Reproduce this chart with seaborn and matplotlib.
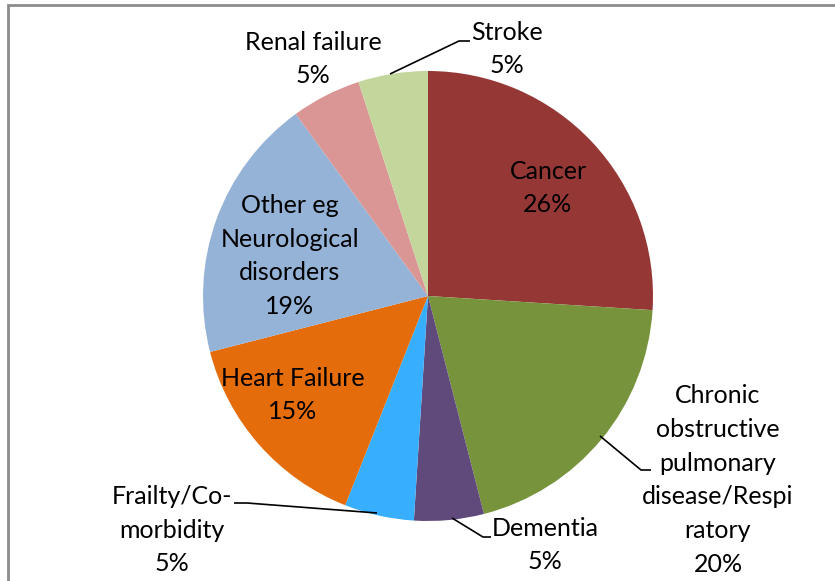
import matplotlib
matplotlib.use("Agg")
import matplotlib.pyplot as plt
import seaborn as sns
from matplotlib.patches import Rectangle

categories = ["Cancer", "Chronic obstructive pulmonary disease/Respiratory", "Dementia",
              "Frailty/Co-morbidity", "Heart Failure", "Other eg Neurological disorders",
              "Renal failure", "Stroke"]
values = [26, 20, 5, 5, 15, 19, 5, 5]
label_texts = ["Cancer", "Chronic\nobstructive\npulmonary\ndisease/Respi\nratory", "Dementia",
               "Frailty/Co-\nmorbidity", "Heart Failure", "Other eg\nNeurological\ndisorders",
               "Renal failure", "Stroke"]
colors = ["#953735", "#77933C", "#604A7B", "#38AEFF", "#E46C0A", "#95B3D7", "#D99694", "#C3D69B"]

sns.set_theme(style="white")
plt.rcParams['font.family'] = ['Lato', 'DejaVu Sans']

W, H = 835, 581
CX, CY, R = 428, 296, 225

fig = plt.figure(figsize=(W / 100, H / 100), dpi=100)
ax = fig.add_axes([0, 0, 1, 1])

ax.pie(values, colors=colors, startangle=90, counterclock=False, radius=1.0,
       wedgeprops=dict(linewidth=0))
ax.set_xlim(-CX / R, (W - CX) / R)
ax.set_ylim(-(H - CY) / R, CY / R)
ax.set_aspect("equal")
ax.axis("off")

def P(px, py):
    return ((px - CX) / R, (CY - py) / R)

# label centre positions (pixels)
label_pos = [(718, 480), (545, 545), (172, 530), (293, 395), (290, 256), (313, 59), (507, 49)]
label_pos = [(548, 188)] + label_pos
fs = 18
for txt, v, (px, py) in zip(label_texts, values, label_pos):
    x, y = P(px, py)
    ax.text(x, y, f"{txt}\n{v}%", ha="center", va="center", fontsize=fs,
            color="black", linespacing=1.57)

# leader lines (pixels)
leaders = [
    [(600, 436), (641, 470), (651, 470)],
    [(452, 518), (483, 537), (491, 537)],
    [(377, 513), (247, 503), (234, 503)],
    [(390, 74), (459, 41), (470, 41)],
]
for pts in leaders:
    xs, ys = zip(*[P(a, b) for a, b in pts])
    ax.plot(xs, ys, color="black", lw=1.2, solid_capstyle="butt")

fig.patches.append(Rectangle((8 / W, -0.05), 1.2, 1 - 5 / H + 0.05, transform=fig.transFigure,
                             fill=False, edgecolor="#8c8c8c", linewidth=2))

fig.savefig("out.png", dpi=100)
